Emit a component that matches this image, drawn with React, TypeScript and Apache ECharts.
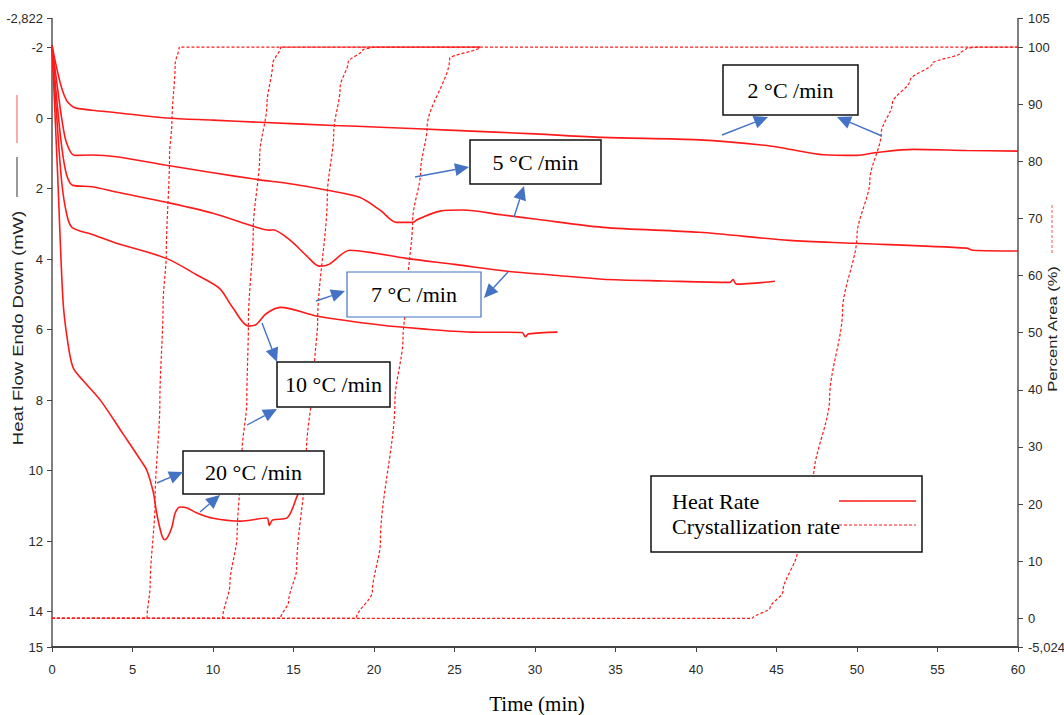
import React, { useEffect, useRef } from "react";
import * as echarts from "echarts";

// ---------- Heat flow curves (left axis, mW, inverted) ----------
const heat2T = [0, 0.3, 0.6, 0.9, 1.2, 1.5, 2.5, 4, 7.1, 10, 12.9, 17.5, 20.4, 25, 30, 34.2, 40.2, 44.4, 46, 47.9, 50, 51.2, 53.5, 56.8, 60];
const heat2V = [-2.06, -1.4, -0.85, -0.5, -0.35, -0.28, -0.22, -0.15, 0.0, 0.06, 0.12, 0.21, 0.26, 0.35, 0.45, 0.55, 0.62, 0.78, 0.9, 1.04, 1.06, 0.98, 0.89, 0.92, 0.94];

const heat5T = [0, 0.3, 0.6, 0.9, 1.4, 2.5, 4, 7.1, 10, 12.7, 15, 17.1, 19.1, 20.4, 21.4, 22.4, 22.7, 24.1, 25.5, 28, 30.1, 34.2, 40.2, 45.8, 49.8, 56.8, 57.2, 60];
const heat5V = [-2.06, -1.0, 0.0, 0.7, 1.06, 1.05, 1.1, 1.34, 1.55, 1.74, 1.88, 2.05, 2.25, 2.62, 2.96, 2.96, 2.88, 2.64, 2.61, 2.75, 2.87, 3.1, 3.24, 3.47, 3.55, 3.69, 3.75, 3.77];

const heat7T = [0, 0.3, 0.6, 0.9, 1.3, 2.5, 4, 7.1, 10, 12.5, 13.5, 13.7, 14.8, 15.8, 16.6, 17.2, 18.5, 19.75, 22, 25, 28.4, 31, 34.2, 38, 42.1, 42.3, 42.5, 44.9];
const heat7V = [-2.06, -0.5, 0.8, 1.6, 1.91, 1.95, 2.1, 2.39, 2.7, 3.07, 3.18, 3.17, 3.47, 3.9, 4.2, 4.15, 3.75, 3.81, 3.98, 4.15, 4.35, 4.45, 4.57, 4.62, 4.66, 4.58, 4.71, 4.63];

const heat10T = [0, 0.3, 0.6, 0.9, 1.24, 2.5, 4, 7.1, 9, 10.4, 11.2, 12.2, 12.7, 13.3, 14.2, 16.5, 20.4, 23, 26, 29.2, 29.4, 29.6, 31.4];
const heat10V = [-2.06, 0, 1.8, 2.7, 3.1, 3.3, 3.55, 3.98, 4.45, 4.83, 5.36, 5.9, 5.85, 5.55, 5.37, 5.62, 5.87, 5.98, 6.07, 6.08, 6.2, 6.12, 6.07];

const heat20T = [0, 0.35, 0.68, 0.93, 1.3, 1.9, 3, 4.4, 5.5, 5.9, 6.3, 6.5, 6.8, 7.0, 7.2, 7.45, 7.65, 7.95, 8.4, 9.0, 10, 11.7, 13.35, 13.5, 13.7, 14.6, 15.2, 15.6];
const heat20V = [-2.06, 1.6, 5.16, 6.2, 7.07, 7.43, 8.0, 8.95, 9.7, 10.0, 10.63, 11.2, 11.8, 11.96, 11.87, 11.6, 11.2, 11.03, 11.06, 11.2, 11.35, 11.43, 11.34, 11.55, 11.4, 11.34, 10.75, 10.3];

// ---------- Crystallization curves (right axis, % area) ----------
const cry20T = [0, 5.9, 6.1, 6.4, 6.7, 6.9, 7.1, 7.3, 7.45, 7.65, 7.9, 26.6];
const cry20P = [0, 0, 6, 20.5, 38, 55, 64, 81, 87, 97, 100, 100];

const cry10T = [0, 10.6, 11.05, 11.5, 11.8, 12.1, 12.2, 12.5, 12.9, 13.35, 13.7, 14.2, 26.6];
const cry10P = [0, 0, 6, 14.7, 29, 38, 52, 68, 81, 90, 97, 100, 100];

const cry7T = [0, 14.2, 14.7, 15.2, 15.8, 16.3, 16.5, 17.1, 17.5, 17.9, 18.4, 19.3, 19.9, 26.6];
const cry7P = [0, 0, 3, 8.8, 29, 44, 52, 74, 85, 93, 97.4, 99.5, 100, 100];

const cry5T = [0, 18.9, 19.9, 20.4, 21.3, 21.8, 22.05, 22.4, 22.9, 23.3, 24.7, 26.6, 60];
const cry5P = [0, 0, 4.7, 13.5, 38, 49, 57, 69.6, 78.4, 86, 98, 100, 100];

const cry2T = [0, 43.5, 44.6, 45.4, 46.3, 47.3, 48.3, 49.1, 50, 50.8, 51.5, 52.2, 53.3, 54.7, 56.4, 56.8, 57.5, 60];
const cry2P = [0, 0, 1.8, 4.7, 11.8, 24.6, 38.6, 53.8, 67, 76.7, 84.9, 90.2, 94.2, 97.2, 98.9, 99.8, 100, 100];

// ---------- Axis ticks ----------
const leftTicks = [-2.822, -2, 0, 2, 4, 6, 8, 10, 12, 14, 15];
const rightTicks = [-5.024, 0, 10, 20, 30, 40, 50, 60, 70, 80, 90, 100, 105];

// ---------- Annotation texts ----------
const rateLabels = ["2 °C /min", "5 °C /min", "7 °C /min", "10 °C /min", "20 °C /min"];
const legendLabels = ["Heat Rate", "Crystallization rate"];

const RED = "#ff1a1a";
const BLUE = "#4472c4";
const NARROW = "'Liberation Sans Narrow', 'Arial Narrow', 'Liberation Sans', Arial, sans-serif";
const SERIF = "'Liberation Serif', 'Times New Roman', serif";
const SANS = "'Liberation Sans', Arial, sans-serif";

const zip = (t: number[], v: number[]) => t.map((x, i) => [x, v[i]]);

function fmt(v: number) {
  if (v === -2.822) return "-2,822";
  if (v === -5.024) return "-5,024";
  return String(v);
}

function arrow(x1: number, y1: number, x2: number, y2: number) {
  const dx = x2 - x1, dy = y2 - y1;
  const len = Math.sqrt(dx * dx + dy * dy);
  const ux = dx / len, uy = dy / len;
  const hl = 14, hw = 6.5;
  const bx = x2 - ux * hl, by = y2 - uy * hl;
  return [
    { type: "line", z: 100, shape: { x1, y1, x2: bx, y2: by }, style: { stroke: BLUE, lineWidth: 1.4 } },
    {
      type: "polygon", z: 100,
      shape: { points: [[x2, y2], [bx - uy * hw, by + ux * hw], [bx + uy * hw, by - ux * hw]] },
      style: { fill: BLUE },
    },
  ];
}

function box(x: number, y: number, w: number, h: number, text: string, stroke = "#111", lw = 1.5) {
  return [
    { type: "rect", z: 100, shape: { x, y, width: w, height: h }, style: { fill: "#fff", stroke, lineWidth: lw } },
    {
      type: "text", z: 101, x: x + w / 2, y: y + h / 2,
      style: { text, font: `22px ${SERIF}`, fill: "#000", align: "center", verticalAlign: "middle" },
    },
  ];
}

export default function App() {
  const ref = useRef<HTMLDivElement>(null);
  useEffect(() => {
    document.body.style.margin = "0";
    const chart = echarts.init(ref.current!, null, { renderer: "svg" });

    const heatSeries = [
      zip(heat2T, heat2V), zip(heat5T, heat5V), zip(heat7T, heat7V), zip(heat10T, heat10V), zip(heat20T, heat20V),
    ].map((d, i) => ({
      name: "heat" + i, type: "line", yAxisIndex: 0, data: d, showSymbol: false, smooth: 0.3,
      lineStyle: { color: RED, width: 1.6 }, z: 3,
    }));
    const cryData = [zip(cry20T, cry20P), zip(cry10T, cry10P), zip(cry7T, cry7P), zip(cry5T, cry5P), zip(cry2T, cry2P)];
    const crySeries = cryData.map((d, i) => ({
      name: "cry" + i, type: "line", yAxisIndex: 1, data: d, showSymbol: false, smooth: 0.3, smoothMonotone: "y",
      lineStyle: { color: RED, width: 1.2, type: [3, 2] }, z: 2,
    }));

    const graphic: any[] = [
      ...box(723, 65, 135, 50, rateLabels[0]),
      ...box(470, 140, 131, 44, rateLabels[1]),
      ...box(347, 272, 134, 45, rateLabels[2], BLUE, 1.2),
      ...box(277, 362, 113, 45, rateLabels[3]),
      ...box(183, 451, 141, 43, rateLabels[4]),
      ...arrow(722, 135, 768, 117),
      ...arrow(882, 136, 837, 117),
      ...arrow(415, 177, 469, 167),
      ...arrow(514, 217, 524, 186),
      ...arrow(316, 301, 345, 291),
      ...arrow(508, 272, 484, 298),
      ...arrow(262, 323, 277, 362),
      ...arrow(247, 425, 277, 409),
      ...arrow(157, 483, 183, 472),
      ...arrow(200, 512, 220, 495),
      // legend
      { type: "rect", z: 100, shape: { x: 651, y: 476, width: 271, height: 76 }, style: { fill: "#fff", stroke: "#111", lineWidth: 1.5 } },
      { type: "text", z: 101, x: 672, y: 501, style: { text: legendLabels[0], font: `22px ${SERIF}`, fill: "#000", align: "left", verticalAlign: "middle" } },
      { type: "text", z: 101, x: 672, y: 526, style: { text: legendLabels[1], font: `22px ${SERIF}`, fill: "#000", align: "left", verticalAlign: "middle" } },
      { type: "line", z: 102, shape: { x1: 839, y1: 501, x2: 916, y2: 501 }, style: { stroke: RED, lineWidth: 1.5 } },
      { type: "line", z: 102, shape: { x1: 839, y1: 525, x2: 916, y2: 525 }, style: { stroke: RED, lineWidth: 1.2, lineDash: [3, 2] } },
      // axis titles
      {
        type: "text", z: 50, x: 18, y: 328, rotation: Math.PI / 2, scaleY: 0.8,
        style: { text: "Heat Flow Endo Down (mW)", font: `18.5px ${SANS}`, fill: "#222", align: "center", verticalAlign: "middle" },
      },
      {
        type: "text", z: 50, x: 1052, y: 329, rotation: Math.PI / 2, scaleY: 0.8,
        style: { text: "Percent Area (%)", font: `16.5px ${SANS}`, fill: "#222", align: "center", verticalAlign: "middle" },
      },
      { type: "line", z: 50, shape: { x1: 17, y1: 95, x2: 17, y2: 143 }, style: { stroke: "#ff5555", lineWidth: 1 } },
      { type: "line", z: 50, shape: { x1: 17, y1: 157, x2: 17, y2: 197 }, style: { stroke: "#333", lineWidth: 1 } },
      { type: "line", z: 50, shape: { x1: 1052, y1: 205, x2: 1052, y2: 253 }, style: { stroke: "#ff5555", lineWidth: 1, lineDash: [3, 2] } },
      {
        type: "text", z: 50, x: 537, y: 704,
        style: { text: "Time (min)", font: `21px ${SERIF}`, fill: "#000", align: "center", verticalAlign: "middle" },
      },
    ];

    chart.setOption({
      animation: false,
      backgroundColor: "#fff",
      grid: { left: 52, right: 46, top: 18.5, bottom: 68, containLabel: false, outerBoundsMode: "none" },
      xAxis: {
        type: "value", min: 0, max: 60, interval: 5,
        axisLine: { onZero: false, lineStyle: { color: "#444", width: 2 } },
        axisTick: { show: true, length: 5, lineStyle: { color: "#444" } },
        axisLabel: { margin: 16, fontSize: 13, fontFamily: NARROW, color: "#2a2a2a" },
        splitLine: { show: false },
      },
      yAxis: [
        {
          type: "value", inverse: true, min: -2.822, max: 15, position: "left",
          axisLine: { show: true, onZero: false, lineStyle: { color: "#555", width: 1.5 } },
          axisTick: { show: true, length: 5, customValues: leftTicks, lineStyle: { color: "#444" } },
          axisLabel: { customValues: leftTicks, formatter: fmt, margin: 9, fontSize: 13, fontFamily: NARROW, color: "#2a2a2a" },
          splitLine: { show: false },
        },
        {
          type: "value", min: -5.024, max: 105, position: "right",
          axisLine: { show: true, onZero: false, lineStyle: { color: "#555", width: 1.5 } },
          axisTick: { show: true, length: 5, customValues: rightTicks, lineStyle: { color: "#444" } },
          axisLabel: { customValues: rightTicks, formatter: fmt, margin: 10, fontSize: 13, fontFamily: NARROW, color: "#2a2a2a" },
          splitLine: { show: false },
        },
      ],
      series: [...crySeries, ...heatSeries],
      graphic,
    });
    return () => chart.dispose();
  }, []);
  return <div ref={ref} style={{ width: 1064, height: 715 }} />;
}
